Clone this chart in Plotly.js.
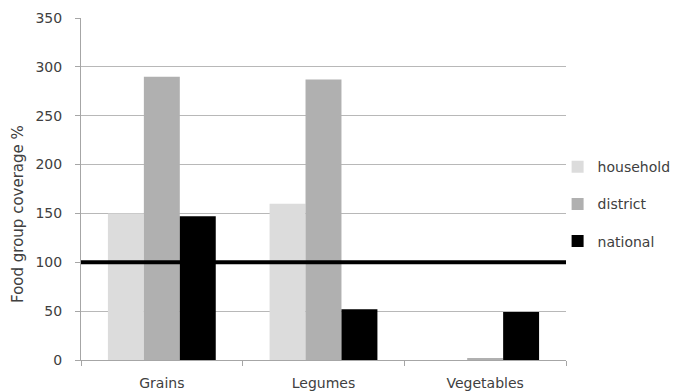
<!DOCTYPE html>
<html>
<head>
<meta charset="utf-8">
<script src="https://cdn.plot.ly/plotly-3.0.1.min.js"></script>
<style>
  html, body { margin: 0; padding: 0; background: #ffffff; }
  #chart { width: 680px; height: 391px; }
</style>
</head>
<body>
<div id="chart"></div>
<script>
// Food group coverage (%) by level
const categories = ["Grains", "Legumes", "Vegetables"];
const household = [150, 160, 0];
const district = [290, 287, 2];
const national = [147, 52, 49];
const referenceLevel = 100;
const yTicks = [0, 50, 100, 150, 200, 250, 300, 350];
const yTitle = "Food group coverage %";

const textColor = "#404040";
const fontFamily = "DejaVu Sans, Verdana, sans-serif";

function barTrace(name, values, color) {
  return {
    type: "bar",
    name: name,
    x: categories,
    y: values,
    marker: { color: color, line: { width: 0 } },
    legendgroup: name,
    hoverinfo: "x+y+name"
  };
}

const data = [
  barTrace("household", household, "#dcdcdc"),
  barTrace("district", district, "#b0b0b0"),
  barTrace("national", national, "#000000")
];

const layout = {
  width: 680,
  height: 391,
  margin: { l: 81, r: 114, t: 18, b: 31, autoexpand: false },
  paper_bgcolor: "#ffffff",
  plot_bgcolor: "#ffffff",
  font: { family: fontFamily, size: 14, color: textColor },
  barmode: "group",
  bargap: 0.333,
  bargroupgap: 0,
  xaxis: {
    type: "category",
    tickson: "boundaries",
    ticks: "outside",
    ticklen: 5,
    tickcolor: "#a6a6a6",
    ticklabelstandoff: 10,
    showline: true,
    linecolor: "#a6a6a6",
    linewidth: 1,
    showgrid: false,
    tickfont: { size: 14, color: textColor },
    fixedrange: true
  },
  yaxis: {
    range: [0, 350],
    tickvals: yTicks,
    ticks: "outside",
    ticklen: 5,
    tickcolor: "#a6a6a6",
    ticklabelstandoff: 10,
    showline: true,
    linecolor: "#a6a6a6",
    linewidth: 1,
    showgrid: true,
    gridcolor: "#b8b8b8",
    gridwidth: 1,
    zeroline: false,
    tickfont: { size: 14, color: textColor },
    fixedrange: true
  },
  // vertical axis caption, sitting a little below the plot's middle
  annotations: [{
    text: yTitle,
    xref: "paper",
    yref: "paper",
    x: -0.13,
    y: 0.427,
    xanchor: "center",
    yanchor: "middle",
    textangle: -90,
    showarrow: false,
    font: { size: 15, color: textColor }
  }],
  shapes: [{
    type: "line",
    xref: "paper",
    yref: "y",
    x0: 0,
    x1: 1,
    y0: referenceLevel,
    y1: referenceLevel,
    line: { color: "#000000", width: 4 },
    layer: "above"
  }],
  showlegend: true,
  legend: {
    xref: "container",
    yref: "container",
    x: 0.82,
    xanchor: "left",
    y: 0.478,
    yanchor: "middle",
    traceorder: "grouped",
    tracegroupgap: 16,
    font: { size: 14, color: textColor },
    bgcolor: "rgba(0,0,0,0)",
    itemwidth: 30
  }
};

Plotly.newPlot("chart", data, layout, { displayModeBar: false, staticPlot: true });
</script>
</body>
</html>
